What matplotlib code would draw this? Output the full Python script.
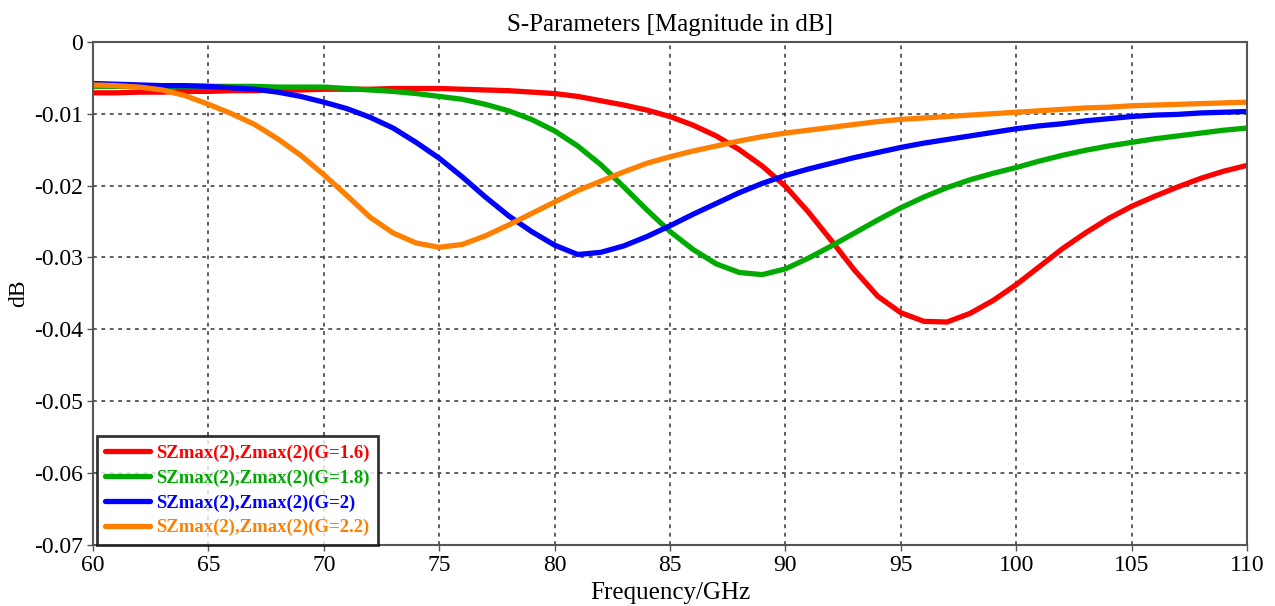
import matplotlib
matplotlib.use("Agg")
import matplotlib.pyplot as plt
import numpy as np

plt.rcParams['font.family'] = ['Liberation Serif', 'DejaVu Serif']
plt.rcParams['axes.unicode_minus'] = False

# frequency grid (GHz)
freq = list(range(60, 111))

# S-parameter magnitude (dB)
s_g16 = [-0.0071, -0.0071, -0.0070, -0.0070, -0.0069, -0.0069, -0.0068, -0.0068, -0.0067, -0.0067,
         -0.0066, -0.0066, -0.0066, -0.0065, -0.0065, -0.0065, -0.0066, -0.0067, -0.0068, -0.0070,
         -0.0072, -0.0076, -0.0082, -0.0088, -0.0095, -0.0104, -0.0116, -0.0131, -0.0150, -0.0173,
         -0.0201, -0.0237, -0.0277, -0.0318, -0.0354, -0.0377, -0.0389, -0.0390, -0.0378, -0.0360,
         -0.0338, -0.0313, -0.0288, -0.0266, -0.0246, -0.0229, -0.0215, -0.0202, -0.0190, -0.0180,
         -0.0172]
s_g18 = [-0.0062, -0.0062, -0.0062, -0.0062, -0.0062, -0.0062, -0.0062, -0.0062, -0.0063, -0.0063,
         -0.0063, -0.0065, -0.0067, -0.0069, -0.0072, -0.0076, -0.0080, -0.0087, -0.0096, -0.0108,
         -0.0124, -0.0145, -0.0171, -0.0202, -0.0234, -0.0264, -0.0289, -0.0309, -0.0321, -0.0324,
         -0.0316, -0.0301, -0.0284, -0.0266, -0.0248, -0.0231, -0.0216, -0.0203, -0.0192, -0.0183,
         -0.0175, -0.0166, -0.0158, -0.0151, -0.0145, -0.0140, -0.0135, -0.0131, -0.0127, -0.0123,
         -0.0120]
s_g20 = [-0.0058, -0.0059, -0.0060, -0.0061, -0.0061, -0.0062, -0.0064, -0.0066, -0.0070, -0.0076,
         -0.0084, -0.0093, -0.0105, -0.0120, -0.0140, -0.0162, -0.0188, -0.0216, -0.0242, -0.0264,
         -0.0283, -0.0296, -0.0293, -0.0284, -0.0271, -0.0256, -0.0240, -0.0225, -0.0210, -0.0197,
         -0.0186, -0.0177, -0.0169, -0.0161, -0.0154, -0.0147, -0.0141, -0.0136, -0.0131, -0.0126,
         -0.0121, -0.0117, -0.0114, -0.0110, -0.0107, -0.0104, -0.0102, -0.0101, -0.0099, -0.0098,
         -0.0097]
s_g22 = [-0.0060, -0.0061, -0.0063, -0.0067, -0.0075, -0.0087, -0.0100, -0.0115, -0.0135, -0.0158,
         -0.0185, -0.0214, -0.0244, -0.0266, -0.0280, -0.0286, -0.0282, -0.0270, -0.0255, -0.0239,
         -0.0223, -0.0207, -0.0194, -0.0181, -0.0169, -0.0160, -0.0152, -0.0145, -0.0138, -0.0132,
         -0.0127, -0.0123, -0.0119, -0.0115, -0.0111, -0.0108, -0.0106, -0.0104, -0.0102, -0.0100,
         -0.0098, -0.0096, -0.0094, -0.0092, -0.0091, -0.0089, -0.0088, -0.0087, -0.0086, -0.0085,
         -0.0084]

labels = ["SZmax(2),Zmax(2)(G=1.6)", "SZmax(2),Zmax(2)(G=1.8)",
          "SZmax(2),Zmax(2)(G=2)", "SZmax(2),Zmax(2)(G=2.2)"]
colors = ["#ff0000", "#00aa00", "#0000ff", "#ff8000"]

fig = plt.figure(figsize=(12.75, 6.06), dpi=100)
ax = fig.add_axes([0.073, 0.101, 0.905, 0.830])

for ys, lab, c in zip([s_g16, s_g18, s_g20, s_g22], labels, colors):
    ax.plot(freq, ys, color=c, linewidth=3.8, label=lab,
            solid_capstyle="round", solid_joinstyle="round")

ax.set_xlim(60, 110)
ax.set_ylim(-0.07, 0)
ax.set_xticks(np.arange(60, 111, 5))
ax.set_yticks(np.arange(-0.07, 0.001, 0.01))
ax.set_yticklabels(["-0.07", "-0.06", "-0.05", "-0.04", "-0.03", "-0.02", "-0.01", "0"])
ax.tick_params(labelsize=17, length=4, width=1, color="#555555", pad=3)
ax.grid(True, color="#333333", linestyle=(0, (2.5, 3)), linewidth=1.1)

for sp in ax.spines.values():
    sp.set_color("#555555")
    sp.set_linewidth(1.5)

ax.set_title("S-Parameters [Magnitude in dB]", fontsize=18, pad=8)
ax.set_xlabel("Frequency/GHz", fontsize=18, labelpad=5)
ax.set_ylabel("dB", fontsize=17, labelpad=4)

leg = ax.legend(loc="lower left", bbox_to_anchor=(0.003, 0.0),
                prop={"weight": "bold", "size": 13.5}, frameon=True, fancybox=False,
                borderpad=0.45, labelspacing=0.4, handlelength=2.4, handletextpad=0.3,
                borderaxespad=0.0)
leg.get_frame().set_edgecolor("black")
leg.get_frame().set_linewidth(2)
for t, c in zip(leg.get_texts(), colors):
    t.set_color(c)

fig.savefig("out.png", dpi=100)
